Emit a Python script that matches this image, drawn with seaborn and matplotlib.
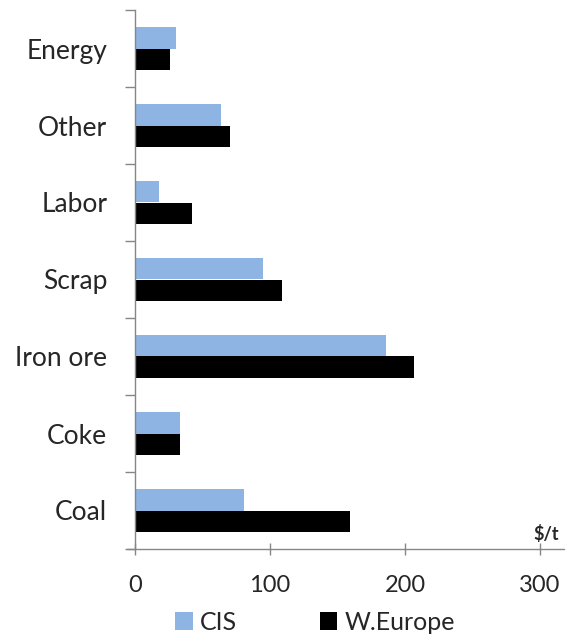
import numpy as np
import pandas as pd
import matplotlib
matplotlib.use("Agg")
import matplotlib.pyplot as plt
from matplotlib.patches import Patch
from matplotlib.ticker import FixedLocator
import seaborn as sns

# Cost components of steel production, $ per tonne
categories = ["Energy", "Other", "Labor", "Scrap", "Iron ore", "Coke", "Coal"]
cis = [30, 64, 18, 95, 186, 33, 81]
w_europe = [26, 70, 42, 109, 207, 33, 159]
series_names = ["CIS", "W.Europe"]
x_ticks = [0, 100, 200, 300]
unit_label = "$/t"

df = pd.DataFrame({
    "category": categories * 2,
    "value": cis + w_europe,
    "region": [series_names[0]] * len(categories) + [series_names[1]] * len(categories),
})

sns.set_theme(style="white")
plt.rcParams["font.family"] = ["Lato", "DejaVu Sans"]

blue = "#8db4e2"
black = "#000000"
axis_grey = "#868686"
text_col = "#262626"

fig = plt.figure(figsize=(5.66, 6.35), dpi=100)
ax = fig.add_axes([135 / 566, 1 - 549 / 635, (540 - 135) / 566, (549 - 10) / 635])

sns.barplot(data=df, y="category", x="value", hue="region", order=categories,
            hue_order=series_names, palette=[blue, black], orient="h",
            width=0.56, saturation=1, linewidth=0, ax=ax, legend=False)

ax.set_xlim(0, 300)
ax.set_ylim(len(categories) - 0.5, -0.5)
ax.set_xlabel("")
ax.set_ylabel("")

for s in ["top", "right", "bottom"]:
    ax.spines[s].set_visible(False)
ax.spines["left"].set_color(axis_grey)
ax.spines["left"].set_linewidth(1.0)

# horizontal axis line running a little past both ends
ax.plot([-0.02, 1.06], [0, 0], transform=ax.transAxes, color=axis_grey,
        lw=1.0, clip_on=False, zorder=5)

ax.set_xticks(x_ticks)
ax.set_xticklabels([str(t) for t in x_ticks])
ax.tick_params(axis="x", direction="inout", length=9, width=1.0, color=axis_grey,
               labelsize=17, labelcolor=text_col, pad=14, bottom=True)
ax.tick_params(axis="y", which="major", length=0, labelsize=19,
               labelcolor=text_col, pad=20, left=True)
ax.yaxis.set_minor_locator(FixedLocator(np.arange(-0.5, len(categories), 1.0)))
ax.tick_params(axis="y", which="minor", direction="out", length=7, width=1.0,
               color=axis_grey, left=True)

fig.text(559 / 566, 1 - 534 / 635, unit_label, ha="right", va="center",
         fontsize=13, fontweight="bold", color=text_col)

handles = [Patch(facecolor=blue, edgecolor="none"),
           Patch(facecolor=black, edgecolor="none")]
fig.legend(handles, series_names, loc="center", bbox_to_anchor=(0.557, 1 - 622 / 635),
           ncol=2, frameon=False, fontsize=18, handlelength=0.7, handleheight=0.7,
           handletextpad=0.3, columnspacing=3.3, labelcolor=text_col)

fig.savefig("out.png", dpi=100, facecolor="white")
